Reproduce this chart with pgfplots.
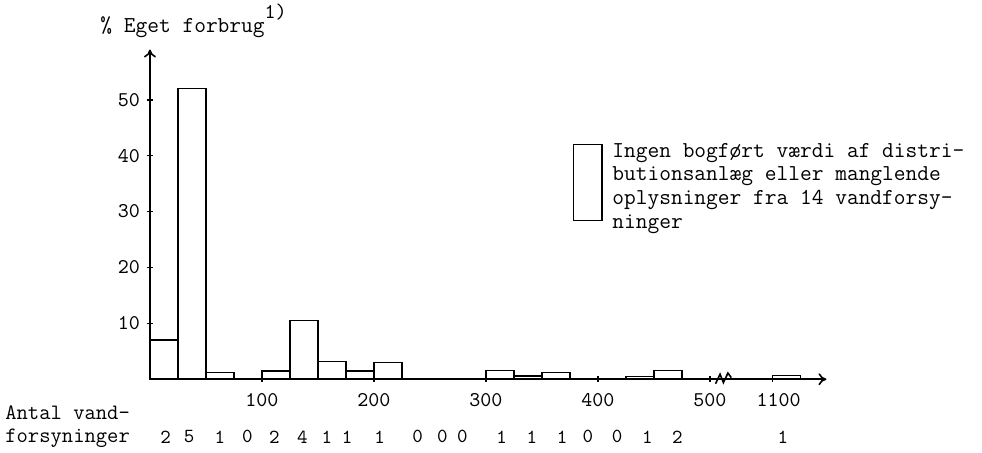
\documentclass[border=0pt]{standalone}
\usepackage{pgfplots}
\pgfplotsset{compat=1.18}
\usetikzlibrary{arrows.meta}
\begin{document}
\begin{tikzpicture}[font=\ttfamily]
\begin{axis}[
  scale only axis, width=338.5pt, height=165pt,
  xmin=0, xmax=604, ymin=0, ymax=59,
  axis lines=left,
  axis line style={line width=0.8pt},
  x axis line style={-{To[length=4pt,width=6pt]}},
  y axis line style={-{To[length=4pt,width=6pt]}},
  xtick={100,200,300,400,500},
  xticklabels={100,200,300,400,500},
  extra x ticks={556},
  extra x tick labels={1100},
  extra x tick style={xticklabel style={xshift=3pt}},
  ytick={10,20,30,40,50},
  yticklabels={10,20,30,40,50},
  tick align=center, major tick length=3pt,
  tick style={black, line width=0.7pt},
  /pgf/number format/assume math mode=true,
  ticklabel style={font=\ttfamily\fontsize{10.5}{11}\selectfont},
  xticklabel style={yshift=-2pt},
  clip=false,
]
\path (axis cs:-133.9,-13.04) rectangle (axis cs:742.9,67.86);
\addplot[ybar interval, draw=black, fill=none, line width=0.8pt] coordinates {
 (0,7) (25,52) (50,1.2) (75,0) (100,1.5) (125,10.5) (150,3.2) (175,1.5)
 (200,3) (225,0) (250,0) (275,0) (300,1.6) (325,0.6) (350,1.2) (375,0)
 (400,0) (425,0.5) (450,1.6) (475,0)};
\addplot[ybar interval, draw=black, fill=none, line width=0.8pt] coordinates {
 (556,0.7) (581,0.7)};
% axis break
\draw[line width=0.8pt] (axis cs:505,-0.8) -- (axis cs:509,0.9) -- (axis cs:512,-0.6) -- (axis cs:516,1.1) -- (axis cs:519,0.3);
% y title
\node[anchor=base west, inner sep=0pt, font=\ttfamily\fontsize{11.4}{13}\selectfont] at (axis cs:-44.6,62.1) {\% Eget forbrug\raisebox{7pt}{\fontsize{10.5}{11}\selectfont 1)}};
% legend
\draw[line width=0.8pt] (axis cs:378,28.4) rectangle (axis cs:403.6,42);
\node[anchor=north west, inner sep=0pt, align=left, font=\ttfamily\fontsize{11.4}{11.8}\selectfont] at (axis cs:412.5,42.3) {Ingen bogført værdi af distri-\\butionsanlæg eller manglende\\oplysninger fra 14 vandforsy-\\ninger};
% x description
\node[anchor=west, inner sep=0pt, font=\ttfamily\fontsize{11}{13}\selectfont] at (axis cs:-129.5,-5.9) {Antal vand-};
\node[anchor=west, inner sep=0pt, font=\ttfamily\fontsize{11}{13}\selectfont] at (axis cs:-129.5,-10.5) {forsyninger};
% counts
\begingroup
\tikzset{every node/.style={font=\ttfamily\fontsize{11}{13}\selectfont, inner sep=0pt}}
\node at (axis cs:14,-10.3) {2};
\node at (axis cs:35,-10.3) {5};
\node at (axis cs:62.5,-10.3) {1};
\node at (axis cs:87,-10.3) {0};
\node at (axis cs:111,-10.3) {2};
\node at (axis cs:136,-10.3) {4};
\node at (axis cs:158,-10.3) {1};
\node at (axis cs:176,-10.3) {1};
\node at (axis cs:205,-10.3) {1};
\node at (axis cs:239,-10.3) {0};
\node at (axis cs:261,-10.3) {0};
\node at (axis cs:279,-10.3) {0};
\node at (axis cs:314,-10.3) {1};
\node at (axis cs:341,-10.3) {1};
\node at (axis cs:368,-10.3) {1};
\node at (axis cs:391,-10.3) {0};
\node at (axis cs:417,-10.3) {0};
\node at (axis cs:444,-10.3) {1};
\node at (axis cs:471,-10.3) {2};
\node at (axis cs:565,-10.3) {1};
\endgroup
\end{axis}
\end{tikzpicture}
\end{document}
